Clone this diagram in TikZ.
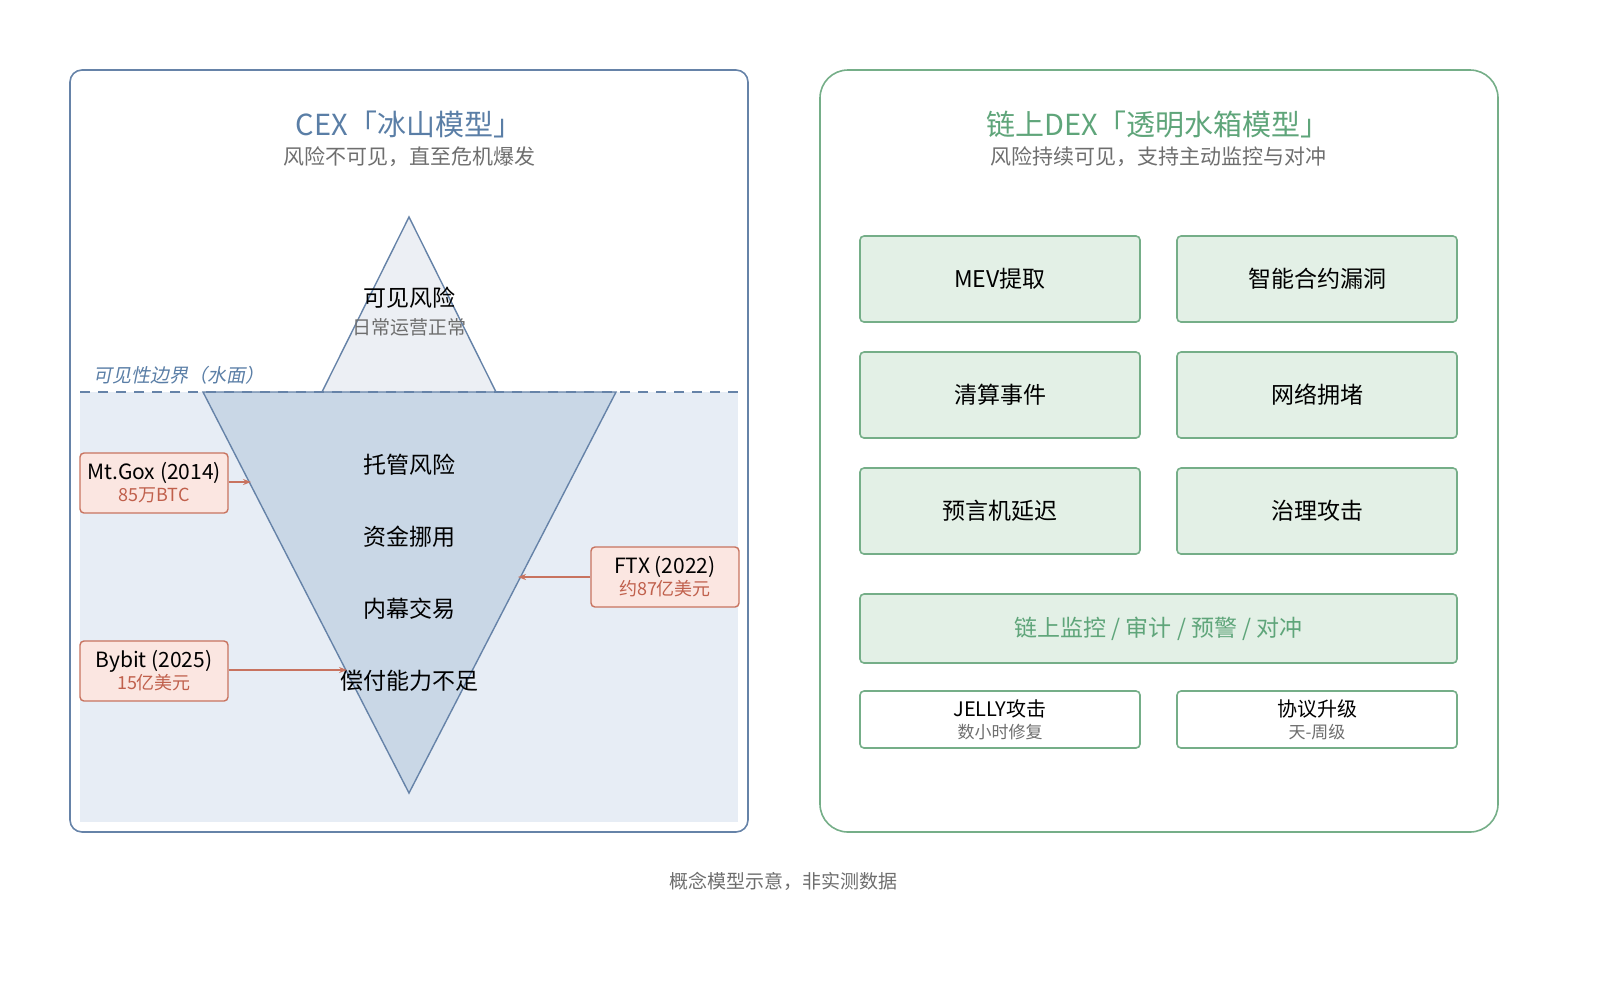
\documentclass[tikz,border=0pt]{standalone}
\usepackage{fontspec}
\setmainfont{Noto Sans CJK SC}
\newfontfamily\slantcjk{Noto Sans CJK SC}[FakeSlant=0.2]
\usetikzlibrary{arrows.meta,positioning}
\definecolor{cexblue}{HTML}{5A7EA6}
\definecolor{cexline}{HTML}{6683A8}
\definecolor{water}{HTML}{E7EDF5}
\definecolor{icetop}{HTML}{ECEFF4}
\definecolor{icebot}{HTML}{C9D7E6}
\definecolor{redline}{HTML}{C8735F}
\definecolor{redfill}{HTML}{FBE6E1}
\definecolor{redtext}{HTML}{C0604C}
\definecolor{dexgreen}{HTML}{5FA57A}
\definecolor{greenline}{HTML}{75AE88}
\definecolor{greenfill}{HTML}{E3F0E6}
\definecolor{subgrey}{HTML}{6E6E6E}
\tikzset{
  riskbox/.style = {draw=greenline, fill=greenfill, line width=0.8pt, rounded corners=2pt,
                    minimum width=140pt, minimum height=43pt, font=\fontsize{11.5}{13}\selectfont},
  smallbox/.style = {draw=greenline, fill=white, line width=0.8pt, rounded corners=2pt,
                     minimum width=140pt, minimum height=28.5pt, align=center},
  eventbox/.style = {draw=redline, fill=redfill, line width=0.7pt, rounded corners=2pt,
                     minimum width=74pt, minimum height=30pt, align=center},
  eventarrow/.style = {redline, line width=0.8pt, -{Stealth[length=4pt]}},
  layer/.style = {font=\fontsize{11.5}{13}\selectfont}
}
\begin{document}
\begin{tikzpicture}[x=0.5pt, y=-0.5pt]
  \useasboundingbox (0,0) rectangle (1600,992);

  % left panel
  \fill[water] (80,392) rectangle (738,822);
  \draw[cexline, line width=0.8pt, rounded corners=6pt] (70,70) rectangle (748,832);
  \node[text=cexblue, font=\fontsize{14.5}{16}\selectfont] (cextitle) at (409,124) {CEX「冰山模型」};
  \node[text=subgrey, font=\fontsize{10.5}{12}\selectfont] (cexsub) at (409,157) {风险不可见，直至危机爆发};

  % iceberg
  \draw[cexline, fill=icetop, line width=0.7pt] (322,392) -- (409,217) -- (496,392);
  \draw[cexline, fill=icebot, line width=0.7pt] (203,392) -- (616,392) -- (409,793) -- cycle;
  \draw[cexline, dashed, line width=0.7pt, dash pattern=on 5pt off 4pt] (80,392) -- (738,392);
  \node[text=cexblue, anchor=west, font=\slantcjk\fontsize{9.5}{11}\selectfont] (waterline) at (86,375) {可见性边界（水面）};

  \node[layer] (visible) at (409,298) {可见风险};
  \node[text=subgrey, font=\fontsize{9.5}{11}\selectfont] (normal) at (409,327) {日常运营正常};
  \node[layer] (custody) at (409,465) {托管风险};
  \node[layer] (misuse) at (409,537) {资金挪用};
  \node[layer] (insider) at (409,609) {内幕交易};
  \node[layer] (insolvency) at (409,681) {偿付能力不足};

  % events
  \node[eventbox] (mtgox) at (154,483) {\fontsize{10.5}{11}\selectfont Mt.Gox (2014)\\[-1pt]\textcolor{redtext}{\fontsize{9}{10}\selectfont 85万BTC}};
  \node[eventbox] (ftx) at (665,577) {\fontsize{10.5}{11}\selectfont FTX (2022)\\[-1pt]\textcolor{redtext}{\fontsize{9}{10}\selectfont 约87亿美元}};
  \node[eventbox] (bybit) at (154,671) {\fontsize{10.5}{11}\selectfont Bybit (2025)\\[-1pt]\textcolor{redtext}{\fontsize{9}{10}\selectfont 15亿美元}};
  \coordinate (mtgoxend) at (251,482);
  \coordinate (ftxend) at (518,577);
  \coordinate (bybitend) at (347,670);
  \draw[eventarrow] (mtgox.east |- mtgoxend) -- (mtgoxend);
  \draw[eventarrow] (ftx.west) -- (ftxend);
  \draw[eventarrow] (bybit.east |- bybitend) -- (bybitend);

  % right panel
  \draw[greenline, line width=0.8pt, rounded corners=14pt] (820,70) rectangle (1498,832);
  \node[text=dexgreen, font=\fontsize{14.5}{16}\selectfont] (dextitle) at (1158,124) {链上DEX「透明水箱模型」};
  \node[text=subgrey, font=\fontsize{10.5}{12}\selectfont] (dexsub) at (1158,157) {风险持续可见，支持主动监控与对冲};

  \node[riskbox] (mev) at (1000,279) {MEV提取};
  \node[riskbox] (contract) at (1317,279) {智能合约漏洞};
  \node[riskbox] (liquidation) at (1000,395) {清算事件};
  \node[riskbox] (congestion) at (1317,395) {网络拥堵};
  \node[riskbox] (oracle) at (1000,511) {预言机延迟};
  \node[riskbox] (governance) at (1317,511) {治理攻击};
  \node[riskbox, minimum width=298.5pt, minimum height=34.5pt, text=dexgreen] (monitor) at (1158.5,628.5) {链上监控 / 审计 / 预警 / 对冲};
  \node[smallbox] (jelly) at (1000,719.5) {\fontsize{10}{11}\selectfont JELLY攻击\\[-1pt]\textcolor{subgrey}{\fontsize{8.5}{10}\selectfont 数小时修复}};
  \node[smallbox] (upgrade) at (1317,719.5) {\fontsize{10}{11}\selectfont 协议升级\\[-1pt]\textcolor{subgrey}{\fontsize{8.5}{10}\selectfont 天-周级}};

  \node[text=subgrey, font=\fontsize{9.5}{11}\selectfont] (footer) at (783,881) {概念模型示意，非实测数据};
\end{tikzpicture}
\end{document}
